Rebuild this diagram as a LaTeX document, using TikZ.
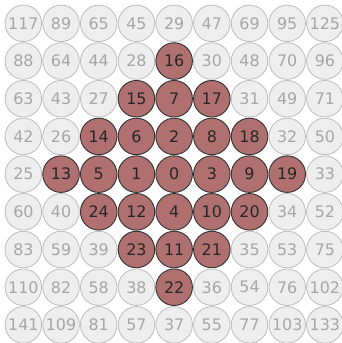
\documentclass[tikz,border=0pt]{standalone}
\usepackage{fontspec}
\setmainfont{DejaVu Sans}
\usetikzlibrary{positioning}
\definecolor{cellred}{RGB}{176,112,112}
\definecolor{cellgrey}{RGB}{238,238,238}
\definecolor{edgegrey}{RGB}{188,188,188}
\definecolor{textgrey}{RGB}{165,165,165}

\tikzset{
  incell/.style={circle, minimum size=0.97cm, inner sep=0pt, fill=cellred,
    draw=black!80, line width=0.7pt, text=black!85},
  outcell/.style={circle, minimum size=0.97cm, inner sep=0pt, fill=cellgrey,
    draw=edgegrey, line width=0.6pt, text=textgrey},
}

\begin{document}
\begin{tikzpicture}[every node/.style={font=\fontsize{12}{14}\selectfont}]
  \useasboundingbox (-4.62,-4.48) rectangle (4.45,4.62);
  % spiral numbering, values below 25 highlighted
  \foreach \row [count=\r] in {
      {117,89,65,45,29,47,69,95,125},
      {88,64,44,28,16,30,48,70,96},
      {63,43,27,15,7,17,31,49,71},
      {42,26,14,6,2,8,18,32,50},
      {25,13,5,1,0,3,9,19,33},
      {60,40,24,12,4,10,20,34,52},
      {83,59,39,23,11,21,35,53,75},
      {110,82,58,38,22,36,54,76,102},
      {141,109,81,57,37,55,77,103,133}}{
    \foreach \v [count=\c] in \row {
      \ifnum\v<25 \def\cellsty{incell}\else\def\cellsty{outcell}\fi
      \node[\cellsty] (n\v) at (\c-5,5-\r) {\v};
    }
  }
\end{tikzpicture}
\end{document}
